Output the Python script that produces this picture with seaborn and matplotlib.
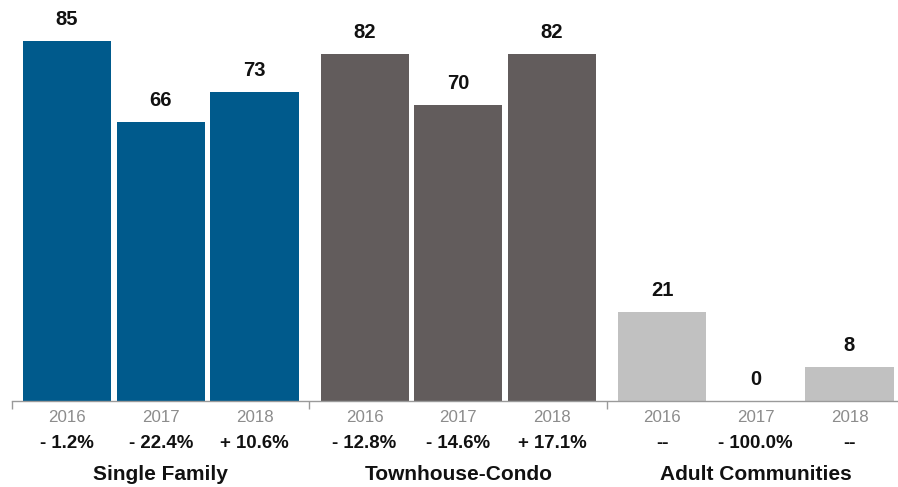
import matplotlib
matplotlib.use("Agg")
import matplotlib.pyplot as plt
import matplotlib.transforms as mtransforms
import pandas as pd
import seaborn as sns

# Data
segments = ["Single Family", "Townhouse-Condo", "Adult Communities"]
years = ["2016", "2017", "2018"]
single_family = [85, 66, 73]
townhouse_condo = [82, 70, 82]
adult_communities = [21, 0, 8]
pct_single_family = ["- 1.2%", "- 22.4%", "+ 10.6%"]
pct_townhouse_condo = ["- 12.8%", "- 14.6%", "+ 17.1%"]
pct_adult_communities = ["--", "- 100.0%", "--"]

series = [single_family, townhouse_condo, adult_communities]
pcts = [pct_single_family, pct_townhouse_condo, pct_adult_communities]
colors = ["#005a8c", "#625c5c", "#c1c1c1"]

# Layout of the grouped slots (in units of one bar pitch)
group_pitch = 3.175
bar_width = 0.94

rows = []
for g, seg in enumerate(segments):
    for i, yr in enumerate(years):
        rows.append({"segment": seg, "year": yr, "value": series[g][i],
                     "pct": pcts[g][i], "pos": g * group_pitch + i})
df = pd.DataFrame(rows)

sns.set_theme(style="white")
plt.rcParams["font.family"] = ["Liberation Sans", "DejaVu Sans"]

W, H = 898, 487
fig = plt.figure(figsize=(W / 100, H / 100), dpi=100)
ax = fig.add_axes([12 / W, (H - 401) / H, (W - 12) / W, 398 / H])

sns.barplot(data=df, x="pos", y="value", hue="segment", hue_order=segments,
            palette=colors, native_scale=True, width=bar_width, dodge=False,
            legend=False, saturation=1, ax=ax, linewidth=0)

left = -0.588
ax.set_xlim(left, 8.868)
ax.set_ylim(0, 94)

for s in ["top", "right", "left"]:
    ax.spines[s].set_visible(False)
ax.spines["bottom"].set_color("#9a9a9a")
ax.spines["bottom"].set_linewidth(1.0)
ax.set_yticks([])
ax.set_xlabel("")
ax.set_ylabel("")

# Group boundary ticks
ax.set_xticks([left + g * group_pitch for g in range(3)])
ax.set_xticklabels([])
ax.tick_params(axis="x", which="major", direction="out", length=6,
               width=1, color="#9a9a9a", bottom=True)

# Value labels above bars
for _, r in df.iterrows():
    ax.annotate(f"{r['value']}", xy=(r["pos"], r["value"]), xytext=(0, 11.5),
                textcoords="offset points", ha="center", va="baseline",
                fontsize=14.5, fontweight="bold", color="#111111")

trans = mtransforms.blended_transform_factory(ax.transData, fig.transFigure)

# Year labels and year-over-year changes
for _, r in df.iterrows():
    ax.text(r["pos"], 1 - 417 / H, r["year"], transform=trans,
            ha="center", va="center", fontsize=12.2, color="#8c8c8c")
    ax.text(r["pos"], 1 - 443 / H, r["pct"], transform=trans,
            ha="center", va="center", fontsize=13.4, fontweight="bold",
            color="#111111")

# Segment names
for g, seg in enumerate(segments):
    ax.text(g * group_pitch + 1, 1 - 475 / H, seg, transform=trans,
            ha="center", va="center", fontsize=15, fontweight="bold",
            color="#111111")

fig.savefig("out.png", dpi=100)
